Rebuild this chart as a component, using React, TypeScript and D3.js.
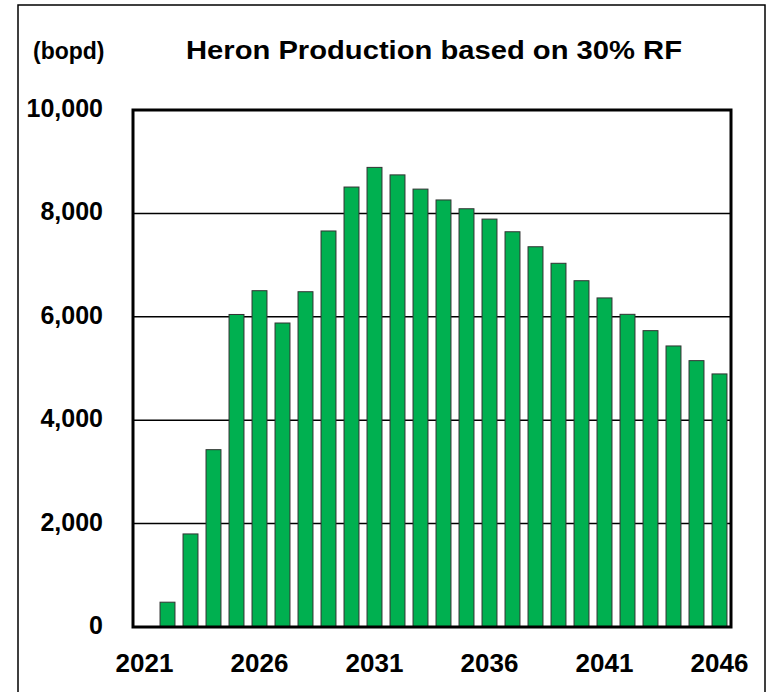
import React from "react";
import * as d3 from "d3";

const years: number[] = [2021, 2022, 2023, 2024, 2025, 2026, 2027, 2028, 2029, 2030, 2031, 2032, 2033, 2034, 2035, 2036, 2037, 2038, 2039, 2040, 2041, 2042, 2043, 2044, 2045, 2046];
const production: number[] = [0, 480, 1800, 3430, 6045, 6505, 5880, 6485, 7660, 8510, 8890, 8745, 8470, 8260, 8090, 7890, 7645, 7355, 7035, 6698, 6365, 6048, 5732, 5436, 5152, 4895];
const yTicks: number[] = [0, 2000, 4000, 6000, 8000, 10000];
const xLabelYears: number[] = [2021, 2026, 2031, 2036, 2041, 2046];

const W = 767;
const H = 692;
const left = 133;
const right = 731;
const top = 110;
const bottom = 627;

export default function App() {
  const x = d3
    .scaleBand<number>()
    .domain(years)
    .range([left, right])
    .paddingInner(0.35)
    .paddingOuter(0.175);
  const y = d3.scaleLinear().domain([0, 10000]).range([bottom, top]);
  const fmt = d3.format(",");
  const font = "'Liberation Sans', Arial, Helvetica, sans-serif";

  return (
    <svg
      width={W}
      height={H}
      style={{ position: "absolute", left: 0, top: 0, background: "#fff" }}
      fontFamily={font}
    >
      <rect x={18} y={5} width={747} height={720} fill="#fff" stroke="#000" strokeWidth={1.5} />
      <text x={33} y={59} fontSize={23} fontWeight="bold" fill="#000">(bopd)</text>
      <text x={186} y={59} fontSize={26} fontWeight="bold" fill="#000" textLength={496} lengthAdjust="spacingAndGlyphs">
        Heron Production based on 30% RF
      </text>
      {yTicks.map((t) => (
        <g key={t}>
          {t > 0 && t < 10000 && (
            <line x1={left} x2={right} y1={y(t)} y2={y(t)} stroke="#000" strokeWidth={1.5} />
          )}
          <text x={103} y={y(t) + 7} textAnchor="end" fontSize={25} fontWeight="bold" fill="#000">
            {fmt(t)}
          </text>
        </g>
      ))}
      {years.map((yr, i) => (
        <rect
          key={yr}
          x={x(yr)!}
          y={y(production[i])}
          width={x.bandwidth()}
          height={bottom - y(production[i])}
          fill="#00B050"
          stroke="#333"
          strokeWidth={1}
        />
      ))}
      <rect x={left} y={top} width={right - left} height={bottom - top} fill="none" stroke="#000" strokeWidth={3} />
      {xLabelYears.map((yr) => (
        <text
          key={yr}
          x={x(yr)! + x.bandwidth() / 2}
          y={672}
          textAnchor="middle"
          fontSize={26}
          fontWeight="bold"
          fill="#000"
        >
          {yr}
        </text>
      ))}
    </svg>
  );
}
